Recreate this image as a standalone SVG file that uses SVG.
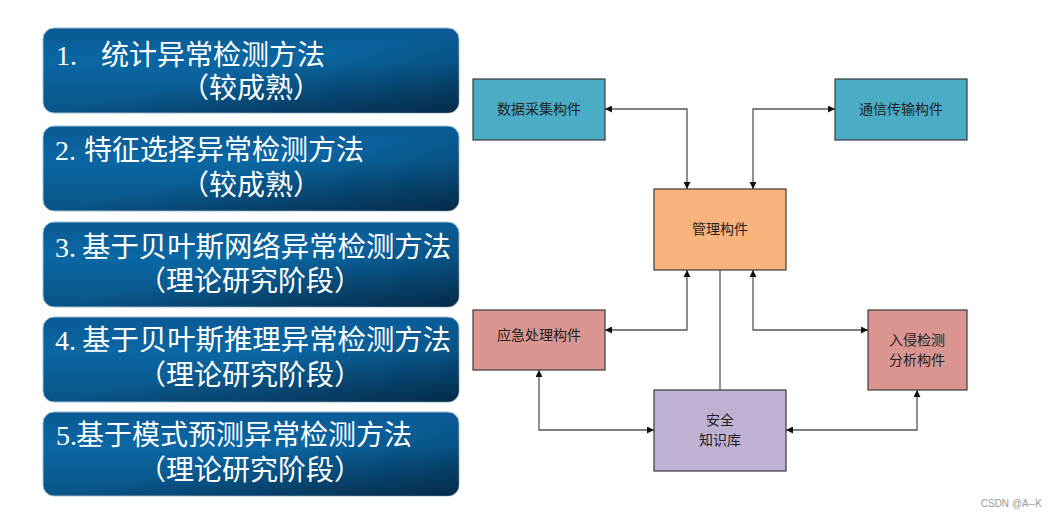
<svg xmlns="http://www.w3.org/2000/svg" width="1057" height="517" viewBox="0 0 1057 517">
<defs>
<linearGradient id="pg" x1="0" y1="0" x2="0" y2="1">
<stop offset="0" stop-color="#0A5A94"/>
<stop offset="0.4" stop-color="#0A67A3"/>
<stop offset="1" stop-color="#0A5487"/>
</linearGradient>
<linearGradient id="pg2" x1="0" y1="0" x2="1" y2="1">
<stop offset="0.5" stop-color="#001020" stop-opacity="0"/>
<stop offset="1" stop-color="#001020" stop-opacity="0.6"/>
</linearGradient>
<marker id="ah" viewBox="0 0 10 10" refX="10" refY="5" markerWidth="7" markerHeight="7" markerUnits="userSpaceOnUse" orient="auto-start-reverse">
<path d="M0,0 L10,5 L0,10 z" fill="#111"/>
</marker>
</defs>
<style>
.panel{fill:url(#pg);stroke:#9FC3DA;stroke-width:1}
.shade{fill:url(#pg2)}
.pt{fill:#fff;font-size:28px;font-family:"Liberation Serif","Noto Sans CJK SC",serif}
.cj{font-family:"Noto Sans CJK SC",sans-serif}
.wide{font-size:28.4px}
.box{stroke:#3a3a3a;stroke-width:1.2}
.blue{fill:#4BACC6}
.orange{fill:#F9B47E}
.pink{fill:#DA9590}
.purple{fill:#BFB1D3}
.bt{font-family:"Noto Sans CJK SC",sans-serif;font-size:14px;fill:#222;text-anchor:middle}
.cn{fill:none;stroke:#555;stroke-width:1.3}
.ar{marker-start:url(#ah);marker-end:url(#ah)}
</style>
<rect width="1057" height="517" fill="#fff"/>

<g id="panel1">
<rect class="panel" x="43" y="28" width="416" height="85" rx="11"/>
<rect class="shade" x="43" y="28" width="416" height="85" rx="11"/>
<text class="pt" y="65"><tspan x="56">1.</tspan><tspan class="cj" x="101">统计异常检测方法</tspan></text>
<text class="pt cj" x="181" y="98">（较成熟）</text>
</g>
<g id="panel2">
<rect class="panel" x="43" y="126" width="416" height="85" rx="11"/>
<rect class="shade" x="43" y="126" width="416" height="85" rx="11"/>
<text class="pt" y="160"><tspan x="55">2.</tspan><tspan class="cj" x="84">特征选择异常检测方法</tspan></text>
<text class="pt cj" x="181" y="195">（较成熟）</text>
</g>
<g id="panel3">
<rect class="panel" x="43" y="222" width="416" height="85" rx="11"/>
<rect class="shade" x="43" y="222" width="416" height="85" rx="11"/>
<text class="pt" y="257"><tspan x="55">3.</tspan><tspan class="cj wide" x="82">基于贝叶斯网络异常检测方法</tspan></text>
<text class="pt cj" x="138" y="291">（理论研究阶段）</text>
</g>
<g id="panel4">
<rect class="panel" x="43" y="317" width="416" height="85" rx="11"/>
<rect class="shade" x="43" y="317" width="416" height="85" rx="11"/>
<text class="pt" y="350"><tspan x="55">4.</tspan><tspan class="cj wide" x="82">基于贝叶斯推理异常检测方法</tspan></text>
<text class="pt cj" x="138" y="385">（理论研究阶段）</text>
</g>
<g id="panel5">
<rect class="panel" x="43" y="412" width="416" height="84" rx="11"/>
<rect class="shade" x="43" y="412" width="416" height="84" rx="11"/>
<text class="pt" y="445"><tspan x="56">5.</tspan><tspan class="cj" x="76">基于模式预测异常检测方法</tspan></text>
<text class="pt cj" x="138" y="480">（理论研究阶段）</text>
</g>

<g id="connectors">
<path class="cn ar" d="M605,109 H687 V189"/>
<path class="cn ar" d="M835,109 H753 V189"/>
<path class="cn ar" d="M687,270 V330 H605"/>
<path class="cn ar" d="M753,270 V330 H868"/>
<path class="cn" d="M720,270 V390"/>
<path class="cn ar" d="M539,370 V430 H654"/>
<path class="cn ar" d="M917,390 V430 H786"/>
</g>

<g id="data">
<rect class="box blue" x="473" y="79" width="132" height="61"/>
<text class="bt" x="539" y="114">数据采集构件</text>
</g>
<g id="comm">
<rect class="box blue" x="835" y="79" width="132" height="61"/>
<text class="bt" x="901" y="114">通信传输构件</text>
</g>
<g id="manage">
<rect class="box orange" x="654" y="189" width="132" height="81"/>
<text class="bt" x="720" y="234">管理构件</text>
</g>
<g id="emergency">
<rect class="box pink" x="473" y="310" width="132" height="60"/>
<text class="bt" x="539" y="340">应急处理构件</text>
</g>
<g id="intrusion">
<rect class="box pink" x="868" y="310" width="99" height="80"/>
<text class="bt" x="917" y="345">入侵检测</text>
<text class="bt" x="917" y="365">分析构件</text>
</g>
<g id="kb">
<rect class="box purple" x="654" y="390" width="132" height="81"/>
<text class="bt" x="720" y="425">安全</text>
<text class="bt" x="720" y="445">知识库</text>
</g>

<text x="1042" y="507" font-family="Liberation Sans, sans-serif" font-size="10" fill="#999" text-anchor="end">CSDN @A--K</text>
</svg>
